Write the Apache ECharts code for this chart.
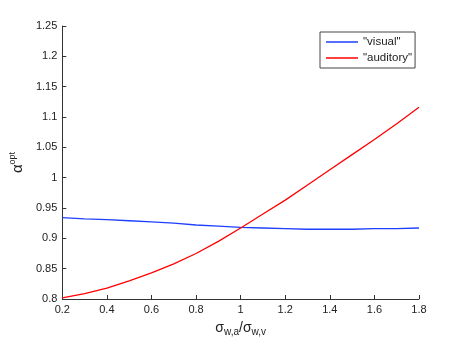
<!DOCTYPE html>
<html>
<head>
<meta charset="utf-8">
<script src="https://cdn.jsdelivr.net/npm/echarts@6/dist/echarts.min.js"></script>
<style>
  html, body { margin: 0; padding: 0; background: #fff; }
  #chart { width: 463px; height: 342px; }
</style>
</head>
<body>
<div id="chart"></div>
<script>
  // ratio sigma_w,a / sigma_w,v
  var ratios = [0.2, 0.3, 0.4, 0.5, 0.6, 0.7, 0.8, 0.9, 1.0, 1.1, 1.2, 1.3, 1.4, 1.5, 1.6, 1.7, 1.8]
  var visual = [0.934, 0.932, 0.931, 0.929, 0.927, 0.925, 0.922, 0.920, 0.918, 0.917, 0.916, 0.915, 0.915, 0.915, 0.916, 0.916, 0.917]
  var auditory = [0.802, 0.809, 0.818, 0.830, 0.843, 0.858, 0.875, 0.895, 0.917, 0.940, 0.963, 0.988, 1.013, 1.038, 1.063, 1.089, 1.116]
  var seriesNames = ['"visual"', '"auditory"']

  var font = 'Liberation Sans, Arial, sans-serif'
  var pairs = function (ys) { return ratios.map(function (x, i) { return [x, ys[i]] }) }

  var option = {
    animation: false,
    backgroundColor: '#fff',
    textStyle: { fontFamily: font },
    grid: { left: 60, right: 44, top: 26, bottom: 39 },
    legend: {
      data: seriesNames,
      orient: 'vertical',
      left: 320,
      top: 32,
      padding: [4, 3, 4, 6],
      itemGap: 4,
      itemWidth: 32,
      itemHeight: 1.5,
      borderColor: '#444',
      borderWidth: 1,
      icon: 'rect',
      textStyle: { fontSize: 11.5, color: '#222', fontFamily: font }
    },
    xAxis: {
      type: 'value',
      min: 0.2,
      max: 1.8,
      interval: 0.2,
      name: '{s|σ}{sub|w,a}{s|/σ}{sub|w,v}',
      nameLocation: 'middle',
      nameGap: 20,
      nameTextStyle: {
        rich: {
          s: { fontSize: 14, color: '#222', fontFamily: font },
          sub: { fontSize: 10, color: '#222', fontFamily: font, padding: [8, 0, 0, 0] }
        }
      },
      axisLine: { lineStyle: { color: '#333' } },
      axisTick: { inside: true, length: 4, lineStyle: { color: '#333' } },
      axisLabel: { color: '#222', fontSize: 11, margin: 5, formatter: function (v) { return +v.toFixed(1) + '' } },
      splitLine: { show: false }
    },
    yAxis: {
      type: 'value',
      min: 0.8,
      max: 1.25,
      interval: 0.05,
      name: '{a|α}{s|opt}',
      nameLocation: 'middle',
      nameRotate: 90,
      nameGap: 32,
      nameTextStyle: {
        rich: {
          a: { fontSize: 15, color: '#222', fontFamily: font },
          s: { fontSize: 9, color: '#222', fontFamily: font, padding: [0, 0, 10, 0] }
        }
      },
      axisLine: { show: true, lineStyle: { color: '#333' } },
      axisTick: { show: true, inside: true, length: 4, lineStyle: { color: '#333' } },
      axisLabel: { color: '#222', fontSize: 11, margin: 5, formatter: function (v) { return +v.toFixed(2) + '' } },
      splitLine: { show: false }
    },
    series: [
      {
        name: seriesNames[0],
        type: 'line',
        data: pairs(visual),
        showSymbol: false,
        lineStyle: { color: '#1f3fff', width: 1.3 },
        itemStyle: { color: '#1f3fff' }
      },
      {
        name: seriesNames[1],
        type: 'line',
        data: pairs(auditory),
        showSymbol: false,
        lineStyle: { color: '#ff0000', width: 1.3 },
        itemStyle: { color: '#ff0000' }
      }
    ]
  }

  var chart = echarts.init(document.getElementById('chart'), null, { renderer: 'canvas' })
  chart.setOption(option)
  window.addEventListener('resize', chart.resize)
</script>
</body>
</html>
